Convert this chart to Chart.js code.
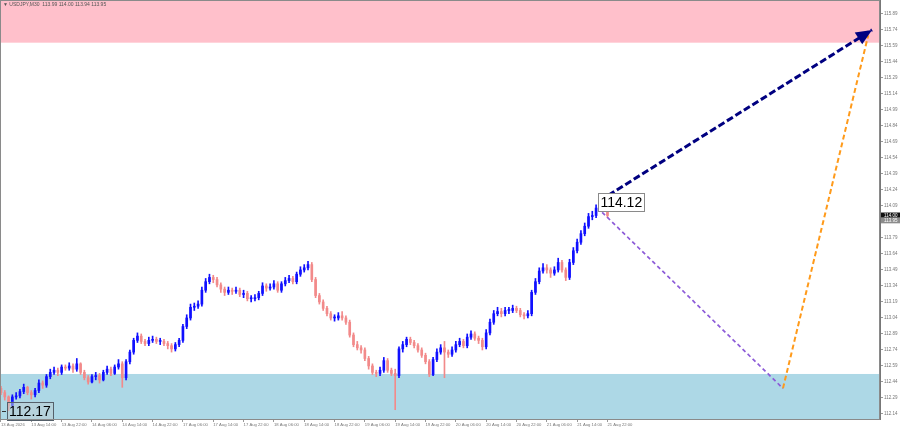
<!DOCTYPE html>
<html><head><meta charset="utf-8">
<script src="https://cdn.jsdelivr.net/npm/chart.js@4.4.1/dist/chart.umd.min.js"></script>
<style>html,body{margin:0;padding:0;background:#fff;}#wrap{width:900px;height:430px;position:relative;}</style>
</head><body><div id="wrap"><canvas id="c" width="900" height="430"></canvas></div>
<script>
const chartTitle = "\u25BC USDJPY,M30  113.99 114.00 113.94 113.95";
const timeLabels = ["13 Aug 2026","13 Aug 14:00","13 Aug 22:00","14 Aug 06:00","14 Aug 14:00","14 Aug 22:00","17 Aug 06:00","17 Aug 14:00","17 Aug 22:00","18 Aug 06:00","18 Aug 14:00","18 Aug 22:00","19 Aug 06:00","19 Aug 14:00","19 Aug 22:00","20 Aug 06:00","20 Aug 14:00","20 Aug 22:00","21 Aug 06:00","21 Aug 14:00","21 Aug 22:00"];
const timeLabelBars = [0,8,16,24,32,40,48,56,64,72,80,88,96,104,112,120,128,136,144,152,160];
const priceTicks = [112.14,112.29,112.44,112.59,112.74,112.89,113.04,113.19,113.34,113.49,113.64,113.79,113.94,114.09,114.24,114.39,114.54,114.69,114.84,114.99,115.14,115.29,115.44,115.59,115.74,115.89];

const opens = [112.38,112.34,112.30,112.22,112.30,112.31,112.35,112.39,112.34,112.32,
112.36,112.43,112.41,112.49,112.53,112.55,112.53,112.58,112.57,112.59,
112.56,112.61,112.53,112.48,112.44,112.49,112.50,112.46,112.53,112.56,
112.52,112.58,112.61,112.48,112.63,112.72,112.83,112.87,112.82,112.80,
112.83,112.84,112.82,112.82,112.80,112.78,112.75,112.79,112.83,112.96,
113.04,113.14,113.15,113.17,113.30,113.38,113.42,113.40,113.35,113.31,
113.28,113.30,113.29,113.30,113.26,113.27,113.22,113.22,113.23,113.27,
113.34,113.32,113.33,113.36,113.30,113.36,113.39,113.41,113.38,113.45,
113.49,113.51,113.54,113.40,113.25,113.19,113.13,113.08,113.04,113.04,
113.06,113.04,113.00,112.88,112.79,112.76,112.74,112.66,112.59,112.53,
112.52,112.55,112.64,112.55,112.52,112.50,112.75,112.79,112.84,112.81,
112.78,112.74,112.69,112.63,112.51,112.65,112.72,112.76,112.72,112.70,
112.74,112.79,112.82,112.78,112.86,112.89,112.85,112.83,112.77,112.90,
113.00,113.08,113.10,113.08,113.11,113.11,113.13,113.11,113.07,113.06,
113.08,113.28,113.38,113.48,113.51,113.49,113.46,113.49,113.56,113.49,
113.42,113.56,113.67,113.75,113.83,113.90,113.99,114.00,114.07,114.11,
114.07];
const closes = [112.34,112.30,112.22,112.30,112.31,112.35,112.39,112.34,112.32,112.36,
112.43,112.41,112.49,112.53,112.55,112.53,112.58,112.57,112.59,112.56,
112.61,112.53,112.48,112.44,112.49,112.50,112.46,112.53,112.56,112.52,
112.58,112.61,112.48,112.63,112.72,112.83,112.87,112.82,112.80,112.83,
112.84,112.82,112.82,112.80,112.78,112.75,112.79,112.83,112.96,113.04,
113.14,113.15,113.17,113.30,113.38,113.42,113.40,113.35,113.31,113.28,
113.30,113.29,113.30,113.26,113.27,113.22,113.22,113.23,113.27,113.34,
113.32,113.33,113.36,113.30,113.36,113.39,113.41,113.38,113.45,113.49,
113.51,113.54,113.40,113.25,113.19,113.13,113.08,113.04,113.04,113.06,
113.04,113.00,112.88,112.79,112.76,112.74,112.66,112.59,112.53,112.52,
112.55,112.64,112.55,112.52,112.50,112.75,112.79,112.84,112.81,112.78,
112.74,112.69,112.63,112.51,112.65,112.72,112.76,112.72,112.70,112.74,
112.79,112.82,112.78,112.86,112.89,112.85,112.83,112.77,112.90,113.00,
113.08,113.10,113.08,113.11,113.11,113.13,113.11,113.07,113.06,113.08,
113.28,113.38,113.48,113.51,113.49,113.46,113.49,113.56,113.49,113.42,
113.56,113.67,113.75,113.83,113.90,113.99,114.00,114.07,114.11,114.07,
114.00];
const highs = [112.40,112.36,112.31,112.32,112.34,112.37,112.42,112.40,112.36,112.38,
112.46,112.45,112.51,112.56,112.58,112.57,112.60,112.60,112.62,112.61,
112.66,112.62,112.55,112.50,112.51,112.53,112.52,112.55,112.59,112.58,
112.60,112.65,112.63,112.65,112.74,112.85,112.90,112.89,112.84,112.86,
112.87,112.86,112.85,112.84,112.82,112.80,112.81,112.85,112.98,113.07,
113.17,113.18,113.20,113.33,113.41,113.45,113.44,113.42,113.37,113.33,
113.33,113.32,113.33,113.32,113.30,113.29,113.25,113.26,113.29,113.37,
113.36,113.36,113.39,113.38,113.38,113.42,113.44,113.43,113.47,113.52,
113.54,113.57,113.56,113.42,113.27,113.21,113.15,113.10,113.07,113.09,
113.10,113.06,113.02,112.90,112.82,112.78,112.76,112.68,112.61,112.55,
112.58,112.67,112.66,112.57,112.56,112.77,112.82,112.86,112.86,112.83,
112.80,112.76,112.71,112.65,112.67,112.75,112.79,112.82,112.74,112.77,
112.82,112.85,112.84,112.89,112.92,112.91,112.87,112.85,112.93,113.03,
113.11,113.14,113.13,113.14,113.14,113.16,113.15,113.13,113.09,113.11,
113.30,113.41,113.51,113.55,113.54,113.51,113.52,113.60,113.58,113.51,
113.59,113.70,113.78,113.86,113.93,114.02,114.04,114.10,114.12,114.12,
114.09];
const lows = [112.32,112.27,112.17,112.20,112.28,112.29,112.33,112.32,112.28,112.30,
112.34,112.38,112.39,112.47,112.51,112.50,112.51,112.55,112.55,112.53,
112.54,112.51,112.46,112.42,112.43,112.46,112.43,112.45,112.51,112.50,
112.51,112.56,112.39,112.46,112.61,112.70,112.81,112.80,112.78,112.78,
112.81,112.80,112.79,112.78,112.75,112.72,112.73,112.77,112.81,112.94,
113.02,113.11,113.13,113.15,113.28,113.36,113.37,113.33,113.28,113.25,
113.26,113.26,113.27,113.24,113.23,113.20,113.19,113.20,113.21,113.25,
113.29,113.30,113.31,113.28,113.28,113.34,113.37,113.36,113.36,113.43,
113.47,113.49,113.38,113.23,113.17,113.11,113.06,113.02,113.01,113.02,
113.02,112.98,112.86,112.77,112.74,112.71,112.64,112.56,112.51,112.49,
112.50,112.53,112.53,112.50,112.18,112.48,112.72,112.77,112.79,112.76,
112.72,112.67,112.61,112.49,112.50,112.63,112.70,112.48,112.67,112.68,
112.72,112.77,112.76,112.76,112.84,112.83,112.80,112.74,112.75,112.88,
112.98,113.06,113.05,113.06,113.08,113.09,113.09,113.05,113.03,113.04,
113.06,113.26,113.36,113.46,113.46,113.42,113.44,113.47,113.47,113.39,
113.40,113.54,113.65,113.73,113.81,113.88,113.96,113.98,114.05,114.05,
113.98];

const resistanceZone = [115.62, 116.02];
const supportZone = [112.09, 112.515];
const mainForecast = [{x:158.0, y:114.14},{x:229.8, y:115.74}];
const correctionPath = [{x:158.6, y:114.03},{x:206.3, y:112.38}];
const reboundPath = [{x:206.3, y:112.38},{x:228.8, y:115.69}];
const extremeLabels = [{bar:158, price:114.125, text:"114.12", fill:"#ffffff", border:"#8a8a8a"},
                       {bar:2, price:112.17, text:"112.17", fill:"rgba(190,205,210,0.55)", border:"#55606a"}];
const priceTags = [{price:114.00, text:"114.00", fill:"#111111", color:"#ffffff"},
                   {price:113.955, text:"113.95", fill:"#8c8c8c", color:"#ffffff"}];

const UP = "#1010ff", DOWN = "#f28a8a";
const candleColors = closes.map((c,i)=> c >= opens[i] ? UP : DOWN);
const wickData = closes.map((c,i)=>({x:i, y:[lows[i], highs[i]]}));
const bodyData = closes.map((c,i)=>({x:i, y:[opens[i], c]}));
const FONT = '"Liberation Sans", Arial, sans-serif';

const zonePlugin = {
  id:'zones',
  beforeDatasetsDraw(chart){
    const {ctx, chartArea:a, scales:{y}} = chart;
    ctx.save();
    const drawZone = (z, col)=>{
      const y1 = Math.max(a.top, y.getPixelForValue(z[1]));
      const y2 = Math.min(a.bottom, y.getPixelForValue(z[0]));
      ctx.fillStyle = col;
      ctx.fillRect(a.left, y1, a.right-a.left, y2-y1);
    };
    drawZone(resistanceZone, '#ffc0cb');
    drawZone(supportZone, '#add8e6');
    ctx.restore();
  }
};
const overlayPlugin = {
  id:'overlay',
  afterDatasetsDraw(chart){
    const {ctx, chartArea:a, scales:{x, y}} = chart;
    ctx.save();
    const p0 = {x:x.getPixelForValue(mainForecast[0].x), y:y.getPixelForValue(mainForecast[0].y)};
    const p1 = {x:x.getPixelForValue(mainForecast[1].x), y:y.getPixelForValue(mainForecast[1].y)};
    const ang = Math.atan2(p1.y-p0.y, p1.x-p0.x);
    const L = 16, W = 7;
    ctx.fillStyle = '#000080';
    ctx.beginPath();
    ctx.moveTo(p1.x, p1.y);
    ctx.lineTo(p1.x - L*Math.cos(ang) + W*Math.sin(ang), p1.y - L*Math.sin(ang) - W*Math.cos(ang));
    ctx.lineTo(p1.x - L*Math.cos(ang) - W*Math.sin(ang), p1.y - L*Math.sin(ang) + W*Math.cos(ang));
    ctx.closePath();
    ctx.fill();
    ctx.font = '14px ' + FONT;
    ctx.textBaseline = 'middle';
    ctx.textAlign = 'left';
    extremeLabels.forEach(l=>{
      const px = x.getPixelForValue(l.bar) - 1.5;
      const py = y.getPixelForValue(l.price);
      const w = ctx.measureText(l.text).width + 4;
      ctx.fillStyle = l.fill;
      ctx.fillRect(px, py-9, w, 18);
      ctx.strokeStyle = l.border;
      ctx.lineWidth = 1;
      ctx.strokeRect(Math.round(px)+0.5, Math.round(py-9)+0.5, Math.round(w), 18);
      ctx.fillStyle = '#000';
      ctx.fillText(l.text, px+2, py+1);
    });
    const lp = y.getPixelForValue(extremeLabels[1].price);
    ctx.strokeStyle = '#333'; ctx.lineWidth = 1;
    ctx.beginPath(); ctx.moveTo(2, Math.round(lp)+0.5); ctx.lineTo(6, Math.round(lp)+0.5); ctx.stroke();
    ctx.restore();
  },
  afterDraw(chart){
    const {ctx, chartArea:a, scales:{y}} = chart;
    ctx.save();
    ctx.strokeStyle = '#8a8a8a'; ctx.lineWidth = 1;
    ctx.strokeRect(a.left+0.5, a.top+0.5, a.right-a.left-1, a.bottom-a.top);
    ctx.font = '4.5px ' + FONT;
    ctx.textBaseline = 'middle'; ctx.textAlign = 'left';
    priceTags.forEach(t=>{
      const py = y.getPixelForValue(t.price);
      ctx.fillStyle = t.fill;
      ctx.fillRect(a.right+1, py-3, 19, 6);
      ctx.fillStyle = t.color;
      ctx.fillText(t.text, a.right+4, py);
    });
    ctx.fillStyle = '#555';
    ctx.font = '5px ' + FONT;
    ctx.fillText(chartTitle, 3, 5);
    ctx.restore();
  }
};

new Chart(document.getElementById('c'), {
  type:'bar',
  data:{
    datasets:[
      {type:'line', data:mainForecast, borderColor:'#000080', borderWidth:3, borderDash:[7,3], pointRadius:0, fill:false, order:0},
      {type:'line', data:correctionPath, borderColor:'#8c5ad8', borderWidth:1.7, borderDash:[4,3], pointRadius:0, fill:false, order:0},
      {type:'line', data:reboundPath, borderColor:'#ff9a1a', borderWidth:2, borderDash:[5,3], pointRadius:0, fill:false, order:0},
      {data:bodyData, backgroundColor:candleColors, barThickness:2, minBarLength:1, grouped:false, order:1},
      {data:wickData, backgroundColor:candleColors, barThickness:1, grouped:false, order:2}
    ]
  },
  options:{
    responsive:false, animation:false, devicePixelRatio:1,
    layout:{padding:0},
    plugins:{legend:{display:false}, tooltip:{enabled:false}},
    scales:{
      x:{type:'linear', min:-0.26, max:231.9, offset:false, position:'bottom',
         grid:{drawOnChartArea:false, drawTicks:true, tickLength:3, color:'#999', offset:false},
         border:{display:true, color:'#777'},
         ticks:{align:'start', autoSkip:false, maxRotation:0, minRotation:0, padding:0,
                font:{size:4.2, family:FONT}, color:'#777',
                callback:(v)=>{const k=timeLabelBars.indexOf(Math.round(v)); return k>=0?timeLabels[k]:'';}},
         afterBuildTicks:(s)=>{s.ticks = timeLabelBars.map(v=>({value:v}));},
         afterFit:(s)=>{s.height = 11; s.paddingLeft = 0; s.paddingRight = 0; s.paddingTop = 0; s.paddingBottom = 0;}
      },
      y:{type:'linear', position:'right', min:112.093, max:116.02, beginAtZero:false,
         grid:{drawOnChartArea:false, drawTicks:true, tickLength:3, color:'#999'},
         border:{display:true, color:'#777'},
         ticks:{padding:1, font:{size:4.5, family:FONT}, color:'#777',
                callback:(v)=>Number(v).toFixed(2)},
         afterBuildTicks:(s)=>{s.ticks = priceTicks.map(v=>({value:v}));},
         afterFit:(s)=>{s.width = 20; s.paddingTop = 0; s.paddingBottom = 0; s.paddingLeft = 0; s.paddingRight = 0;}
      }
    }
  },
  plugins:[zonePlugin, overlayPlugin]
});
</script></body></html>
